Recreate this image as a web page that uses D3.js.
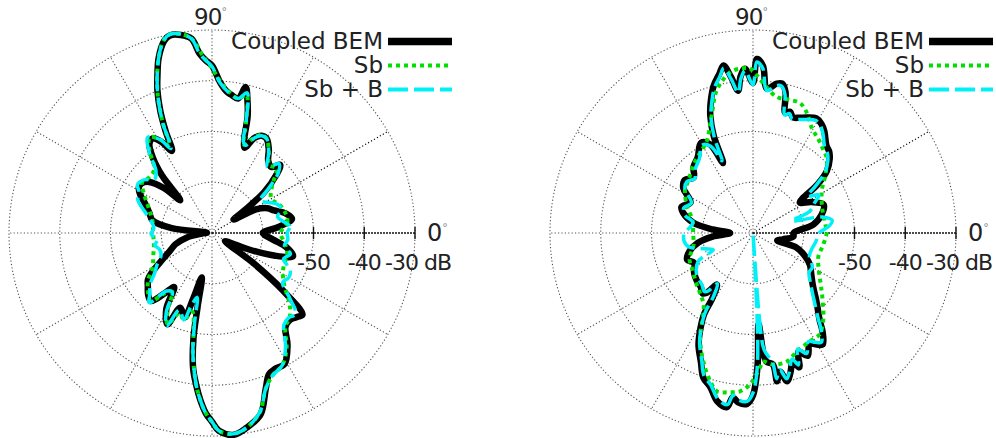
<!DOCTYPE html>
<html>
<head>
<meta charset="utf-8">
<script src="https://cdn.jsdelivr.net/npm/d3@7"></script>
<style>
  body { margin: 0; background: #fff; }
  svg text { font-family: "DejaVu Sans", sans-serif; fill: #222; }
</style>
</head>
<body>
<svg id="chart" width="996" height="438"></svg>
<script>
// radial ticks (dB) and angle labels
var ringTicks = [-60, -50, -40, -30];
var labelTicks = [-50, -40, -30];
var spokeAngles = [0, 30, 60, 90, 120, 150, 180, 210, 240, 270, 300, 330];
var legendNames = ["Coupled BEM", "Sb", "Sb + B"];

// left plot, [angle deg, level dB]
var leftBem = [[0,-60],[5,-57],[10,-54],[15,-55],[20,-57],[24,-58],[28,-60],[32,-65],[35,-62],[38,-57],[42,-53],[45,-51],[48,-52.5],[52,-52],[56,-50],[60,-48.5],[63,-48.5],[66,-49.5],[69,-52],[71,-50.5],[73,-46],[75,-43],[77,-40.5],[79,-43],[82,-42.5],[84,-42],[87,-40.2],[90,-37],[92,-36],[94,-34.5],[96,-31.5],[99,-30.5],[102,-30.2],[104,-31],[107,-34],[109,-37],[111,-40],[113,-44],[114.5,-48],[116,-52],[119,-49.5],[122,-48],[125,-48.5],[128,-51],[131,-55],[134,-61],[137,-57],[141,-54],[145,-53],[148,-53],[152,-54],[156,-55.5],[162,-57],[168,-58],[173,-62],[177,-69],[183,-68],[190,-65],[197,-62.5],[203,-61],[208,-59],[213,-56],[216,-54.4],[220,-53.5],[224,-52.5],[228,-52],[232,-55],[235,-57],[239,-52.5],[244,-50],[247,-54],[252,-52.5],[254,-56.5],[257,-61],[259,-55],[260,-49],[262,-43.2],[264,-40],[266,-37],[268,-34.5],[270,-32.8],[272,-31],[276,-30],[280,-31],[285,-33],[289,-37.5],[292,-40],[295,-40.5],[299,-40.5],[304,-43.4],[308,-46.5],[312,-47],[316,-46.3],[318,-46],[321,-52],[324,-60],[328,-67],[332,-66],[336,-62],[340,-57],[344,-53.4],[349,-55],[354,-58]];
var leftSb = [[0,-56.5],[8,-55],[15,-55],[22,-55.5],[30,-56.5],[38,-55],[45,-52],[50,-52.5],[55,-50.5],[60,-48.5],[64,-48.5],[67,-50],[70,-51.5],[73,-47],[76,-42],[79,-43],[83,-42],[87,-40],[90,-37.5],[93,-35],[96,-31.5],[99,-30.3],[102,-30],[104,-30.8],[107,-34],[111,-40],[114,-46],[116,-51],[119,-49],[123,-47.5],[127,-49.5],[132,-53],[138,-53.5],[144,-53],[150,-54.5],[158,-56.5],[168,-58],[180,-58.4],[192,-58.3],[202,-57.5],[210,-56.5],[216,-54.5],[222,-53],[228,-52],[232,-55],[236,-56],[240,-52.5],[244,-50],[248,-53],[252,-52],[256,-54],[259,-51],[261,-46],[264,-40],[266,-37],[268,-34.5],[270,-32.8],[272,-31],[276,-30.2],[280,-31],[285,-33.5],[289,-37.5],[293,-39.5],[298,-40.5],[303,-43],[308,-46.5],[313,-47.5],[318,-49.5],[323,-52],[329,-53.7],[336,-54.5],[344,-54.6],[352,-55.5]];
var leftSbB = [[0,-55.2],[5,-54.6],[10,-56],[14,-56.7],[19,-55.5],[24,-56],[29,-57.5],[34,-58.6],[38,-56],[42,-52.5],[46,-51],[50,-53],[55,-50.5],[60,-48.5],[63,-48.5],[66,-49.5],[69,-51.5],[71,-51],[73,-47],[76,-41.5],[79,-43],[83,-42.2],[87,-40.3],[90,-37.2],[92,-36],[94,-34.5],[96,-31.5],[99,-30.3],[102,-30],[104,-30.8],[107,-34],[111,-40],[114,-46],[116,-51.5],[119,-49],[124,-47.3],[128,-50],[132,-53.5],[137,-54.5],[142,-53],[147,-52.5],[151,-53.6],[156,-54],[162,-56],[168,-57.6],[175,-58.5],[181,-58],[187,-59.2],[192,-58.5],[198,-59.2],[204,-59],[210,-57.5],[215,-56.2],[220,-54],[224,-53],[228,-51.5],[232,-55.5],[236,-56],[240,-52],[244,-49.5],[247,-53.5],[252,-52],[254,-55],[257,-57],[259,-52],[261,-46],[264,-40],[266,-37],[268,-34.5],[270,-32.8],[272,-31],[276,-30.2],[280,-31],[285,-33.5],[289,-37.5],[293,-39.5],[298,-40.5],[303,-43.4],[308,-47],[312,-47.5],[316,-47],[320,-50],[325,-53],[330,-52.5],[335,-53],[340,-55],[345,-54],[350,-55.5],[355,-55]];

// right plot
var rightBem = [[0,-62],[8,-58],[15,-56],[22,-55],[28,-57],[33,-59],[37,-54],[40,-51],[44,-49],[47,-48],[50,-47.5],[55,-45.5],[58,-44.6],[61,-44.2],[65,-44.9],[68,-45.5],[71,-45.9],[73,-45],[75,-45.5],[77,-41.5],[79,-40],[81,-40.2],[84.5,-41.4],[86.6,-37],[88.7,-35.7],[90,-40.4],[92.8,-37.6],[94.5,-39],[96,-41.8],[98,-39],[100,-36.5],[102,-38],[105,-40],[108,-43],[110,-45.4],[112,-49.3],[113.2,-55],[116,-50.5],[120,-49.5],[126,-51.5],[132,-52.5],[137,-54],[142,-53],[147,-53.6],[154,-56.3],[160,-55],[164,-55.7],[170,-58],[175,-62],[180,-65.5],[185,-62],[190,-59],[196,-57],[202,-56],[207,-57],[214,-56],[220,-55.5],[226,-55.2],[230,-54.5],[232,-55],[235,-57.6],[238,-55],[239,-51.2],[241,-48.7],[244,-45.5],[248,-42.6],[251,-39.9],[254.5,-38.5],[258,-36.1],[261.5,-35.3],[263,-37.4],[265,-36.5],[268,-36.3],[270,-38],[272,-44],[273.5,-52],[275,-46],[276,-44.5],[278.6,-43.8],[279.2,-40.4],[281,-42.2],[283,-40],[285,-41.5],[287.2,-43.5],[289,-42],[291,-45],[294,-43.5],[297,-45.5],[299.7,-44.7],[302,-44.1],[305.3,-46.3],[307.3,-48.3],[313,-51.7],[319,-54.4],[325,-56],[331,-57.2],[338,-59.5],[341.5,-61],[343,-65],[348,-64],[355,-62]];
var rightSb = [[0,-55.5],[10,-55.7],[20,-55.5],[32,-54],[38,-52],[45,-49.4],[50,-48.5],[55,-47.5],[61,-46.2],[66,-44],[70,-42.8],[75,-42.8],[80,-42.8],[85,-41],[88.5,-39],[91,-37.6],[94.5,-37.5],[98,-38],[102,-39.7],[105,-41.5],[108,-44.3],[112,-47.3],[116,-49.5],[120,-50.5],[130,-52],[140,-53.5],[148,-54.2],[158,-56],[168,-57.8],[180,-58.2],[192,-58],[202,-56.5],[212,-56],[222,-55],[230,-54],[235,-53],[238.6,-51.2],[243.2,-46.9],[248.8,-42.9],[253.9,-39.6],[257.2,-38],[260.8,-38.2],[265.3,-38.7],[268.9,-40.2],[273,-43.5],[274.4,-44.6],[278.6,-43.8],[284.8,-43.8],[290.3,-45.1],[297.6,-45.9],[303.3,-46.1],[309,-48],[315.4,-50.7],[322,-53],[330,-55],[340,-56.3],[350,-56]];
var rightSbB = [[0,-57],[5,-55],[9,-54.2],[13,-56],[17,-62],[21,-58],[26,-56.5],[30,-55],[34,-57],[37,-54.5],[40,-51.5],[44,-49.5],[47,-48.5],[50,-48],[55,-46],[58,-45],[61,-44.6],[65,-45.3],[68,-45.9],[71,-46.3],[73,-45.4],[75,-45.9],[77,-42],[79,-40.5],[81,-40.6],[84.5,-41.8],[86.6,-37.5],[88.7,-36.3],[90,-40.8],[92.8,-38],[94.5,-39.5],[96,-42.2],[98,-39.5],[100,-37],[102,-38.5],[105,-40.5],[108,-43.5],[110,-45.8],[112,-49.6],[113.2,-54.5],[116,-51],[120,-50],[126,-52],[132,-53],[137,-54.3],[142,-53.5],[147,-54],[154,-56.5],[160,-55.5],[165,-56],[170,-58],[175,-57.5],[180,-56.5],[186,-56.3],[192,-57],[198,-60],[203,-61.5],[207,-58],[214,-56.5],[220,-56],[226,-55.6],[230,-55],[232,-55.4],[235,-57.8],[238,-55.4],[239,-51.6],[241,-49.1],[244,-46],[248,-43],[251,-40.3],[254.5,-38.9],[258,-36.6],[261.5,-35.8],[263,-37.8],[265,-37],[268,-36.8],[270,-38.5],[272,-44.5],[273.2,-70],[273.8,-70],[274.4,-52],[275.5,-46.8],[278.6,-44.2],[279.2,-40.9],[281,-42.6],[283,-40.5],[285,-42],[287.2,-44],[289,-42.5],[291,-45.5],[294,-44],[297,-46],[299.7,-45.2],[302,-44.6],[305.3,-46.8],[307.3,-48.8],[313,-52.5],[319,-55],[325,-56.5],[330,-56.5],[338,-58],[345,-58],[352,-57.5]];

var svg = d3.select("#chart");
var R = 203;
var rScale = d3.scaleLinear().domain([-70, -30]).range([0, R]).clamp(true);

var drawGrid = function(g)
{
    g.selectAll("circle.ring")
    .data(ringTicks)
    .enter()
    .append("circle")
    .attr("r", function(d){ return rScale(d); })
    .attr("fill", "none")
    .attr("stroke", "#555")
    .attr("stroke-width", 1.1)
    .attr("stroke-dasharray", "1.2,2.2");

    g.selectAll("line.spoke")
    .data(spokeAngles.filter(function(a){ return a != 0; }))
    .enter()
    .append("line")
    .attr("x1", 0).attr("y1", 0)
    .attr("x2", function(a){ return R*Math.cos(a*Math.PI/180); })
    .attr("y2", function(a){ return -R*Math.sin(a*Math.PI/180); })
    .attr("stroke", function(a){ return a == 30 ? "#000" : "#555"; })
    .attr("stroke-width", 1.1)
    .attr("stroke-dasharray", "1.2,2.2");

    // 0 deg axis with dB ticks
    g.append("line")
    .attr("x1", 0).attr("y1", 0)
    .attr("x2", R).attr("y2", 0)
    .attr("stroke", "#111")
    .attr("stroke-width", 1.4)
    .attr("stroke-dasharray", "2,1");

    g.selectAll("line.tick")
    .data(labelTicks)
    .enter()
    .append("line")
    .attr("x1", function(d){ return rScale(d); })
    .attr("x2", function(d){ return rScale(d); })
    .attr("y1", -6).attr("y2", 6)
    .attr("stroke", "#111")
    .attr("stroke-width", 1.4);

    g.selectAll("text.tick")
    .data(labelTicks)
    .enter()
    .append("text")
    .attr("x", function(d){ return rScale(d) + (d == -30 ? 3 : 0); })
    .attr("y", 37)
    .attr("text-anchor", "middle")
    .style("font-size", "22px")
    .style("letter-spacing", "-1px")
    .text(function(d){ return d == -30 ? d + " dB" : d; });

    var t90 = g.append("text")
    .attr("x", -2).attr("y", -208)
    .attr("text-anchor", "middle")
    .style("font-size", "23px")
    .style("letter-spacing", "-1px");
    t90.append("tspan").text("90");
    t90.append("tspan").attr("dy", -10).style("font-size", "11px").style("fill", "#888").text("°");

    var t0 = g.append("text")
    .attr("x", R + 12).attr("y", 8)
    .style("font-size", "24px");
    t0.append("tspan").text("0");
    t0.append("tspan").attr("dy", -10).style("font-size", "11px").style("fill", "#888").text("°");
}

var styles = [
    {color:"#000", width:6.5, dash:null},
    {color:"#00e000", width:4, dash:"4,4"},
    {color:"#00f0f8", width:3.5, dash:"20,6"}
];

var drawCurves = function(g, seriesList)
{
    var radial = d3.lineRadial()
    .angle(function(d){ return (90 - d[0])*Math.PI/180; })
    .radius(function(d){ return rScale(d[1]); })
    .curve(d3.curveCatmullRomClosed.alpha(0.5));

    seriesList.forEach(function(s, i)
    {
        g.append("path")
        .attr("d", radial(s))
        .attr("fill", "none")
        .attr("stroke", styles[i].color)
        .attr("stroke-width", styles[i].width)
        .attr("stroke-linejoin", "round")
        .attr("stroke-dasharray", styles[i].dash);
    })
}

var drawLegend = function(g)
{
    legendNames.forEach(function(name, i)
    {
        var y = -184 + i*24;
        g.append("text")
        .attr("x", 171).attr("y", y)
        .attr("text-anchor", "end")
        .style("font-size", "23px")
        .text(name);

        g.append("line")
        .attr("x1", 176).attr("x2", 240)
        .attr("y1", y - 7.5).attr("y2", y - 7.5)
        .attr("stroke", styles[i].color)
        .attr("stroke-width", i == 0 ? 7.5 : 4)
        .attr("stroke-dasharray", styles[i].dash);
    })
}

var plots = [
    {cx:212, cy:233, data:[leftBem, leftSb, leftSbB]},
    {cx:753, cy:233, data:[rightBem, rightSb, rightSbB]}
];

plots.forEach(function(p)
{
    var g = svg.append("g")
    .attr("transform", "translate(" + p.cx + "," + p.cy + ")");
    drawGrid(g);
    drawCurves(g, p.data);
    drawLegend(g);
})
</script>
</body>
</html>
